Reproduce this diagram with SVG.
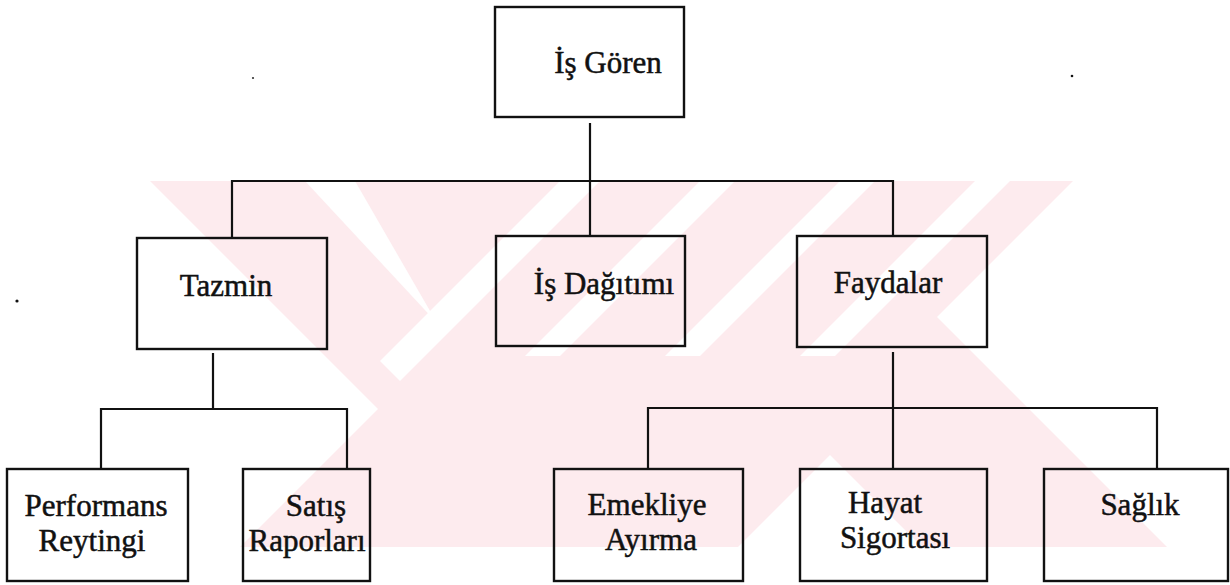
<svg xmlns="http://www.w3.org/2000/svg" width="1230" height="585" viewBox="0 0 1230 585">
  <defs>
    <style>
      .box { fill: none; stroke: #111; stroke-width: 2.4; }
      .wire { fill: none; stroke: #111; stroke-width: 2.2; }
      .lbl { font-family: 'Liberation Serif', 'DejaVu Serif', serif; font-size: 31px; fill: #111; text-anchor: middle; stroke: #111; stroke-width: 0.5; }
      .wm { fill: #fdebee; }
      .gap { fill: #ffffff; }
    </style>
  </defs>

  <rect width="1230" height="585" fill="#ffffff"/>

  <!-- background emblem -->
  <g id="emblem">
    <polygon class="wm" points="150,181 1073,181 937,317 1167,547 240,547 378,409"/>
    <polygon class="gap" points="305,181 355,181 437,323"/>
    <polygon class="gap" points="738,547 830,455 922,547"/>
    <polygon class="gap" points="560,181 600,181 400,381 380,361"/>
    <polygon class="gap" points="700,181 735,181 560,356 525,356"/>
    <polygon class="gap" points="840,181 875,181 700,356 665,356"/>
    <polygon class="gap" points="975,181 1010,181 835,356 800,356"/>
  </g>

  <!-- connectors -->
  <g id="connectors">
    <path class="wire" d="M590,123 V236"/>
    <path class="wire" d="M232,238 V181 H893 V236"/>
    <path class="wire" d="M213,353 V409"/>
    <path class="wire" d="M101,469 V409 H347 V469"/>
    <path class="wire" d="M893,352 V469"/>
    <path class="wire" d="M648,469 V408 H1157 V469"/>
  </g>

  <g id="is-goren">
    <rect class="box" x="495" y="7" width="189" height="110"/>
    <text class="lbl" x="608" y="73">İş Gören</text>
  </g>

  <g id="tazmin">
    <rect class="box" x="137" y="238" width="190" height="111"/>
    <text class="lbl" x="226" y="296">Tazmin</text>
  </g>

  <g id="is-dagitimi">
    <rect class="box" x="496" y="236" width="189" height="110"/>
    <text class="lbl" x="604" y="294">İş Dağıtımı</text>
  </g>

  <g id="faydalar">
    <rect class="box" x="797" y="236" width="190" height="111"/>
    <text class="lbl" x="888" y="293">Faydalar</text>
  </g>

  <g id="performans-reytingi">
    <rect class="box" x="7" y="469" width="181" height="112"/>
    <text class="lbl" x="96" y="516">Performans</text>
    <text class="lbl" x="92" y="551">Reytingi</text>
  </g>

  <g id="satis-raporlari">
    <rect class="box" x="243" y="469" width="127" height="112"/>
    <text class="lbl" x="316" y="516">Satış</text>
    <text class="lbl" x="307" y="551">Raporları</text>
  </g>

  <g id="emekliye-ayirma">
    <rect class="box" x="554" y="469" width="189" height="112"/>
    <text class="lbl" x="647" y="515">Emekliye</text>
    <text class="lbl" x="651" y="550">Ayırma</text>
  </g>

  <g id="hayat-sigortasi">
    <rect class="box" x="800" y="469" width="187" height="112"/>
    <text class="lbl" x="885" y="513">Hayat</text>
    <text class="lbl" x="895" y="548">Sigortası</text>
  </g>

  <g id="saglik">
    <rect class="box" x="1044" y="469" width="184" height="112"/>
    <text class="lbl" x="1140" y="515">Sağlık</text>
  </g>

  <!-- stray specks -->
  <circle cx="17" cy="301" r="1.6" fill="#111"/>
  <circle cx="1072" cy="76" r="1.3" fill="#111"/>
  <circle cx="253" cy="78" r="1.1" fill="#333"/>
</svg>
